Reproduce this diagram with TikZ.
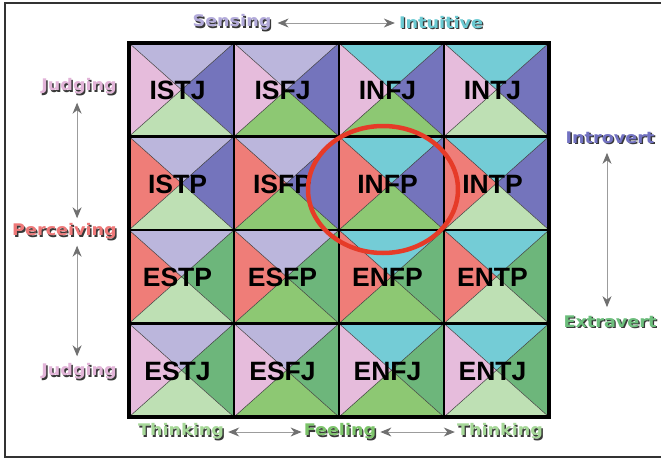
\documentclass[tikz,border=0pt]{standalone}
\usepackage{fontspec}
\setmainfont{Liberation Sans}
\newfontfamily\lblfont{DejaVu Sans}[FakeStretch=1.1]
\usetikzlibrary{arrows.meta,shapes.geometric}

% quadrant colours, one per preference letter
\definecolor{colS}{HTML}{BBB6DC}
\definecolor{colN}{HTML}{74CCD6}
\definecolor{colJ}{HTML}{E6BCDC}
\definecolor{colP}{HTML}{EF7D78}
\definecolor{colI}{HTML}{7474BC}
\definecolor{colE}{HTML}{6DB67B}
\definecolor{colT}{HTML}{BEE0B4}
\definecolor{colF}{HTML}{8DC873}
% label colours
\definecolor{lblS}{HTML}{B2AADA}
\definecolor{lblN}{HTML}{6CCAD2}
\definecolor{lblJ}{HTML}{E2B4D8}
\definecolor{lblP}{HTML}{EE7878}
\definecolor{lblI}{HTML}{7272C2}
\definecolor{lblE}{HTML}{6CBE7C}
\definecolor{lblT}{HTML}{A6D898}
\definecolor{lblF}{HTML}{7CC46A}
\definecolor{shadowgray}{HTML}{383838}
\definecolor{arrowgray}{HTML}{9C9C9C}
\definecolor{tipgray}{HTML}{707070}
\definecolor{ringred}{HTML}{E63B28}

% coloured text with a dark drop shadow
\newcommand\shadowlbl[2]{\rlap{\kern1.4pt\raisebox{-1.4pt}{\textcolor{shadowgray}{#2}}}\textcolor{#1}{#2}}

\tikzset{
  cellbox/.style={rectangle, minimum width=105pt, minimum height=93.5pt, inner sep=0pt, outer sep=0pt},
  celltext/.style={font=\fontsize{26.5}{28}\selectfont\bfseries, text=black, inner sep=0pt},
  diag/.style={draw=black!75, line width=0.5pt},
  gridline/.style={draw=black, line width=2.6pt},
  lbl/.style={font=\lblfont\fontsize{16}{18}\selectfont\bfseries, inner sep=0pt},
  arr/.style={draw=arrowgray, line width=1pt,
    {Stealth[length=11pt, width=9pt, inset=3.5pt, color=tipgray]}-{Stealth[length=11pt, width=9pt, inset=3.5pt, color=tipgray]}},
  frameline/.style={draw=black!80, line width=1.6pt},
  ring/.style={draw=ringred, line width=4.5pt, ellipse, minimum width=150pt, minimum height=127pt, inner sep=0pt}
}

\begin{document}
\begin{tikzpicture}[x=1pt, y=-1pt]
\useasboundingbox (0,0) rectangle (661,458);

% page frame
\draw[frameline] (670,3) -- (5,3) -- (5,457) -- (670,457);

% the sixteen type cells, each split into four triangles
\foreach \n/\ie/\sn/\tf/\jp [count=\k from 0] in {
  ISTJ/I/S/T/J, ISFJ/I/S/F/J, INFJ/I/N/F/J, INTJ/I/N/T/J,
  ISTP/I/S/T/P, ISFP/I/S/F/P, INFP/I/N/F/P, INTP/I/N/T/P,
  ESTP/E/S/T/P, ESFP/E/S/F/P, ENFP/E/N/F/P, ENTP/E/N/T/P,
  ESTJ/E/S/T/J, ESFJ/E/S/F/J, ENFJ/E/N/F/J, ENTJ/E/N/T/J} {
  \pgfmathsetmacro\cx{129+105*(mod(\k,4)+0.5)}
  \pgfmathsetmacro\cy{43+93.5*(int(\k/4)+0.5)}
  \node[cellbox] (\n) at (\cx,\cy) {};
  \fill[col\sn] (\n.north west) -- (\n.north east) -- (\n.center) -- cycle;
  \fill[col\jp] (\n.north west) -- (\n.south west) -- (\n.center) -- cycle;
  \fill[col\ie] (\n.north east) -- (\n.south east) -- (\n.center) -- cycle;
  \fill[col\tf] (\n.south west) -- (\n.south east) -- (\n.center) -- cycle;
  \draw[diag] (\n.north west) -- (\n.south east) (\n.north east) -- (\n.south west);
}

% grid lines
\foreach \n in {ISTJ,ISFJ,INFJ,INTJ,ISTP,ISFP,INFP,INTP,ESTP,ESFP,ENFP,ENTP,ESTJ,ESFJ,ENFJ,ENTJ}
  \draw[gridline] (\n.north west) rectangle (\n.south east);
\draw[draw=black, line width=3.6pt] (ISTJ.north west) rectangle (ENTJ.south east);

% type names
\foreach \n in {ISTJ,ISFJ,INFJ,INTJ,ISTP,ISFP,INFP,INTP,ESTP,ESFP,ENFP,ENTP,ESTJ,ESFJ,ENFJ,ENTJ}
  \node[celltext] (\n-t) at ([xshift=-4pt, yshift=-1pt]\n.center) {\n};

% highlight ring
\node[ring] (hl) at (383,189.5) {};

% dimension labels
\node[lbl] (sens) at (232,23) {\shadowlbl{lblS}{Sensing}};
\node[lbl] (intu) at (441,23) {\shadowlbl{lblN}{Intuitive}};

\node[lbl, anchor=east] (judgA) at (117,87) {\shadowlbl{lblJ}{Judging}};
\node[lbl, anchor=east] (perc) at (117,232) {\shadowlbl{lblP}{Perceiving}};
\node[lbl, anchor=east] (judgB) at (117,372) {\shadowlbl{lblJ}{Judging}};

\node[lbl] (intro) at (610,138) {\shadowlbl{lblI}{Introvert}};
\node[lbl] (extra) at (610,322) {\shadowlbl{lblE}{Extravert}};

\node[lbl] (thinkA) at (181,432) {\shadowlbl{lblT}{Thinking}};
\node[lbl] (feel) at (340,432) {\shadowlbl{lblF}{Feeling}};
\node[lbl] (thinkB) at (500,432) {\shadowlbl{lblT}{Thinking}};

% connectors
\draw[arr, shorten <=6pt, shorten >=4pt] (sens) -- (intu);
\draw[arr, shorten <=7pt, shorten >=5pt] ([xshift=-2pt]judgA.south) -- ([xshift=-2pt]judgA.south |- perc.north);
\draw[arr, shorten <=5pt, shorten >=7pt] ([xshift=-2pt]judgA.south |- perc.south) -- ([xshift=-2pt]judgB.north);
\draw[arr, shorten <=8pt, shorten >=8pt] ([xshift=-3pt]intro.south) -- ([xshift=-3pt]extra.north);
\draw[arr, shorten <=4pt, shorten >=2pt] (thinkA) -- (feel);
\draw[arr, shorten <=4pt, shorten >=2pt] (feel) -- (thinkB);
\end{tikzpicture}
\end{document}
